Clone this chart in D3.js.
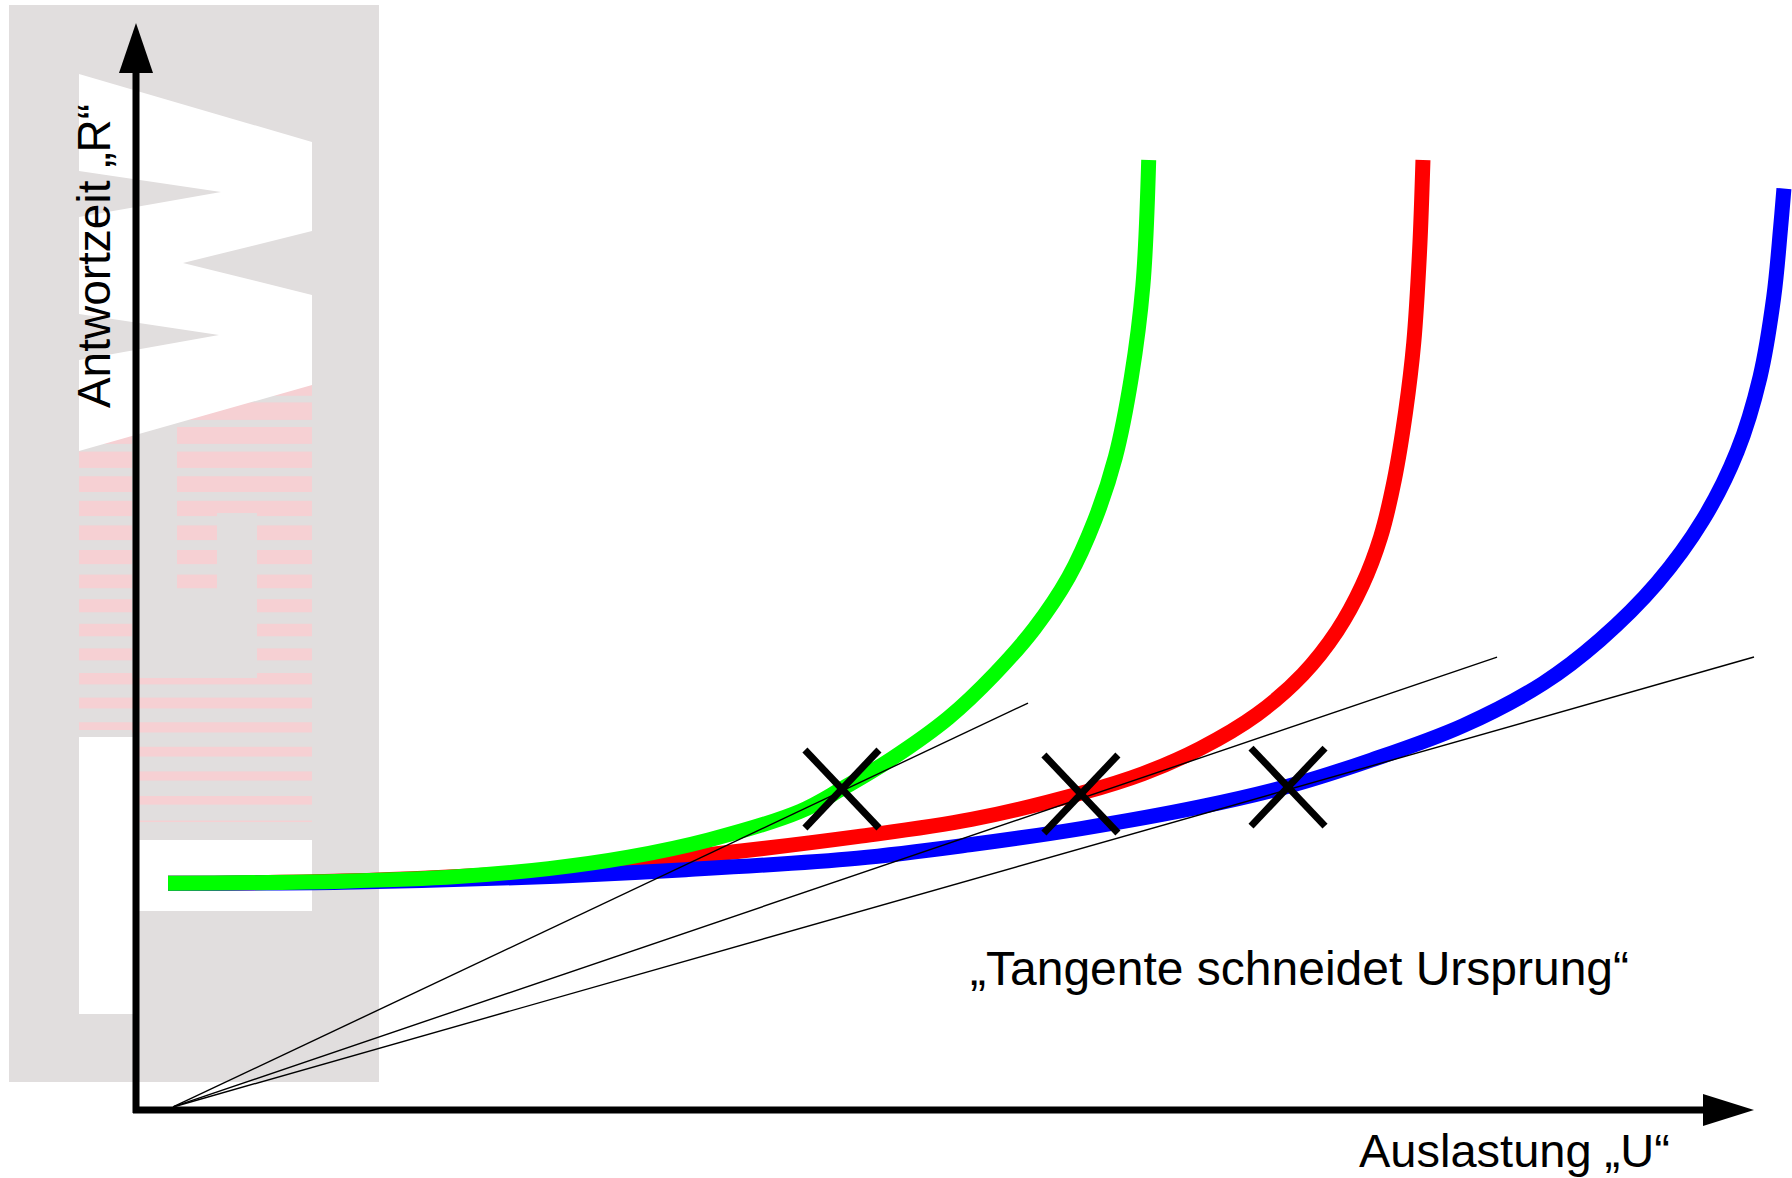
<!DOCTYPE html>
<html><head><meta charset="utf-8">
<script src="https://cdn.jsdelivr.net/npm/d3@7"></script>
<style>html,body{margin:0;padding:0;background:#fff;} svg{display:block;}</style>
</head><body><svg id="c" width="1792" height="1178"></svg>
<script>
// ---------- data (U = Auslastung, R = Antwortzeit, arbitrary units) ----------
const seriesNames = ["red", "blue", "green"];           // drawing order
const seriesColors = ["#ff0000", "#0000ff", "#00ff00"];

const greenU = [1.98, 12.79, 19.85, 25.50, 30.44, 35.39, 41.04, 43.65, 46.69, 50.22, 53.05, 55.52, 57.64, 59.26, 60.53, 61.52, 62.23, 62.59];
const greenR = [20.85, 21.05, 21.47, 22.21, 23.26, 24.84, 27.47, 29.57, 32.30, 36.09, 40.08, 44.29, 49.02, 54.28, 60.06, 67.42, 75.83, 87.40];

const redU = [1.98, 12.79, 23.38, 33.97, 44.57, 51.63, 58.41, 62.23, 65.76, 69.29, 72.12, 74.24, 75.79, 76.92, 77.77, 78.47, 78.97, 79.33, 79.54];
const redR = [20.85, 21.06, 21.79, 23.26, 25.15, 26.73, 29.15, 30.94, 33.25, 36.40, 40.08, 44.08, 48.28, 52.70, 57.96, 64.27, 70.57, 78.98, 87.40];

const blueU = [1.98, 12.79, 23.38, 33.97, 44.57, 51.63, 58.41, 65.76, 71.20, 76.36, 82.01, 86.95, 90.48, 94.01, 96.84, 98.96, 100.37, 101.22, 101.64, 101.85];
const blueR = [20.85, 20.95, 21.37, 22.11, 23.16, 24.42, 25.89, 27.88, 29.78, 32.20, 35.35, 39.24, 43.24, 48.49, 54.28, 60.59, 67.42, 74.79, 81.09, 84.77];

// tangents through the origin
const tangentOrigin = [2.29, 0.28];
const tangentEndU = [55.13, 84.12, 100.0];
const tangentEndR = [37.44, 41.67, 41.67];

// knee points (crosses)
const kneeU = [43.63, 58.40, 71.20];
const kneeR = [29.53, 29.07, 29.71];

const xLabel = "Auslastung \u201EU\u201C";
const yLabel = "Antwortzeit \u201ER\u201C";
const noteLabel = "\u201ETangente schneidet Ursprung\u201C";

// ---------- setup ----------
const svg = d3.select("#c");
const x = d3.scaleLinear().domain([0, 100]).range([136, 1754]);
const y = d3.scaleLinear().domain([0, 100]).range([1110, 23]);
const font = "'Liberation Sans', Arial, sans-serif";

svg.append("rect").attr("width", 1792).attr("height", 1178).attr("fill", "#fff");

// ---------- watermark (decorative background logo) ----------
const wm = svg.append("g");
wm.append("rect").attr("x", 9).attr("y", 5).attr("width", 370).attr("height", 1077).attr("fill", "#e1dede");
const defs = svg.append("defs");
const cp = defs.append("clipPath").attr("id", "stripeClip");
[[79, 380, 53, 350], [177, 380, 135, 133], [177, 513, 40, 77], [257, 513, 55, 169], [132, 678, 180, 144]]
  .forEach(r => cp.append("rect").attr("x", r[0]).attr("y", r[1]).attr("width", r[2]).attr("height", r[3]));
const stripes = wm.append("g").attr("clip-path", "url(#stripeClip)");
for (let k = 0; k < 20; k++) {
  const top = 377.8 + 24.6 * k;
  const h = Math.max(7, 18 - k * 0.55);
  stripes.append("rect").attr("x", 70).attr("y", top).attr("width", 250).attr("height", h).attr("fill", "#f6d0d3");
}
wm.append("polygon")
  .attr("points", "79,74 312,142 312,231 183,263 312,295 312,385 79,451 79,360 219,335 79,314 79,217 221,192 79,171")
  .attr("fill", "#fff");
wm.append("rect").attr("x", 79).attr("y", 737).attr("width", 56).attr("height", 277).attr("fill", "#fff");
wm.append("rect").attr("x", 137).attr("y", 840).attr("width", 175).attr("height", 71).attr("fill", "#fff");

// ---------- curves ----------
const line = d3.line().x(d => x(d[0])).y(d => y(d[1])).curve(d3.curveCatmullRom.alpha(0.5));
const series = {
  red: d3.zip(redU, redR),
  blue: d3.zip(blueU, blueR),
  green: d3.zip(greenU, greenR)
};
seriesNames.forEach((n, i) => {
  svg.append("path").datum(series[n]).attr("d", line)
    .attr("fill", "none").attr("stroke", seriesColors[i]).attr("stroke-width", 15)
    .attr("stroke-linecap", "butt");
});

// ---------- tangents ----------
svg.append("g").selectAll("line").data(d3.range(tangentEndU.length)).join("line")
  .attr("x1", x(tangentOrigin[0])).attr("y1", y(tangentOrigin[1]))
  .attr("x2", i => x(tangentEndU[i])).attr("y2", i => y(tangentEndR[i]))
  .attr("stroke", "#000").attr("stroke-width", 1.4);

// ---------- crosses ----------
const cw = 37, ch = 39;
const crosses = svg.append("g").selectAll("g").data(d3.zip(kneeU, kneeR)).join("g")
  .attr("transform", d => `translate(${x(d[0])},${y(d[1])})`);
crosses.append("line").attr("x1", -cw).attr("y1", -ch).attr("x2", cw).attr("y2", ch)
  .attr("stroke", "#000").attr("stroke-width", 7);
crosses.append("line").attr("x1", cw).attr("y1", -ch).attr("x2", -cw).attr("y2", ch)
  .attr("stroke", "#000").attr("stroke-width", 7);

// ---------- axes ----------
const ax = svg.append("g");
ax.append("line").attr("x1", x(0)).attr("y1", y(0) + 3).attr("x2", x(0)).attr("y2", y(100) + 49)
  .attr("stroke", "#000").attr("stroke-width", 7);
ax.append("path").attr("d", `M${x(0) - 17},${y(100) + 50}L${x(0) + 17},${y(100) + 50}L${x(0)},${y(100)}Z`).attr("fill", "#000");
ax.append("line").attr("x1", x(0) - 3).attr("y1", y(0)).attr("x2", x(100) - 50).attr("y2", y(0))
  .attr("stroke", "#000").attr("stroke-width", 7);
ax.append("path").attr("d", `M${x(100) - 51},${y(0) - 16}L${x(100) - 51},${y(0) + 16}L${x(100)},${y(0)}Z`).attr("fill", "#000");

// ---------- labels ----------
svg.append("text").attr("transform", "translate(110,256) rotate(-90)")
  .attr("text-anchor", "middle").attr("font-family", font).attr("font-size", 46).attr("fill", "#000")
  .text(yLabel);
svg.append("text").attr("x", 1359).attr("y", 1167)
  .attr("font-family", font).attr("font-size", 47).attr("fill", "#000").text(xLabel);
svg.append("text").attr("x", 970).attr("y", 985)
  .attr("font-family", font).attr("font-size", 48).attr("fill", "#000").text(noteLabel);
</script>
</body></html>
